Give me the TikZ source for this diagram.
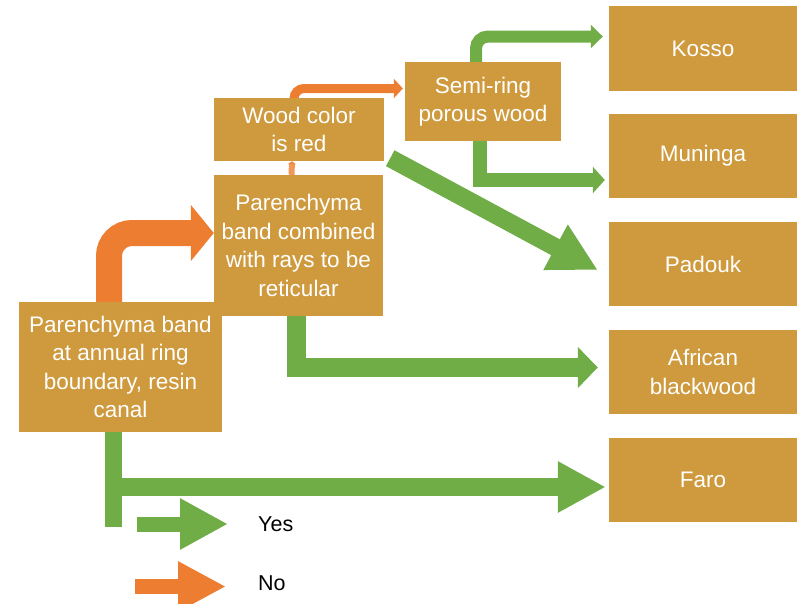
\documentclass[tikz,border=0pt]{standalone}
\usepackage{fontspec}
\setmainfont{Liberation Sans}
\usetikzlibrary{arrows.meta,backgrounds}

\definecolor{boxfill}{RGB}{207,154,61}
\definecolor{yescol}{RGB}{112,173,71}
\definecolor{nocol}{RGB}{237,125,49}

\tikzset{
	box/.style = {fill=boxfill, text=white, align=center, inner sep=0pt,
		font=\fontsize{22.5pt}{28.5pt}\selectfont},
	leaf/.style = {box, minimum width=188pt, minimum height=84pt},
	yes/.style = {draw=yescol, line width=#1},
	no/.style = {draw=nocol, line width=#1},
	legendtext/.style = {anchor=west, inner sep=0pt, font=\fontsize{21.5pt}{24pt}\selectfont}
}

\begin{document}
\begin{tikzpicture}[x=1pt, y=-1pt]
	\useasboundingbox (0,0) rectangle (798,603);
	%boxes
	\node[box, minimum width=203pt, minimum height=130pt] (root) at (120.5,367)
		{Parenchyma band\\at annual ring\\boundary, resin\\canal};
	\node[box, minimum width=169pt, minimum height=141pt] (comb) at (298.5,245.5)
		{Parenchyma\\band combined\\with rays to be\\reticular};
	\node[box, minimum width=170pt, minimum height=63pt] (red) at (299,129.5)
		{Wood color\\is red};
	\node[box, minimum width=156pt, minimum height=79pt] (semi) at (483,101.5)
		{Semi-ring\\porous wood};
	\node[leaf, minimum height=85pt] (kosso) at (703,48.5) {Kosso};
	\node[leaf] (muninga) at (703,156) {Muninga};
	\node[leaf] (padouk) at (703,264) {Padouk};
	\node[leaf] (african) at (703,372) {African\\blackwood};
	\node[leaf] (faro) at (703,480) {Faro};
	
	\coordinate (stem) at (113,527);
	\coordinate (fork) at (113,487);
	
	%arrows
	\begin{pgfonlayer}{background}
		\draw[no=26pt, rounded corners=23pt, -{Triangle[length=23pt,width=55pt]}]
			([xshift=-11.5pt]root.north) |- ([yshift=12.5pt]comb.west);
		\draw[no=9pt, rounded corners=10pt, shorten >=2pt, -{Triangle[length=9pt,width=19pt]}]
			([xshift=-5pt]red.north) |- ([yshift=13pt]semi.west);
		\draw[yes=12pt, rounded corners=12pt, shorten >=6pt, -{Triangle[length=12pt,width=23pt]}]
			([xshift=-7pt]semi.north) |- ([yshift=12pt]kosso.west);
		\draw[yes=14pt, shorten >=4pt, -{Triangle[length=12pt,width=26pt]}]
			([xshift=-3pt]semi.south) |- ([yshift=-24pt]muninga.west);
		\draw[yes=18pt, -{Triangle[length=48pt,width=48pt]}]
			([shift={(6pt,3pt)}]red.south east) -- ([shift={(-11pt,-6pt)}]padouk.west);
		\draw[yes=19pt, shorten >=11pt, -{Triangle[length=20pt,width=40pt]}]
			([xshift=-2pt]comb.south) |- ([yshift=4.5pt]african.west);
		\draw[yes=17pt] ([xshift=-7.5pt]root.south) -- (stem);
		\draw[yes=18pt, shorten >=3pt, -{Triangle[length=48pt,width=48pt]}]
			(fork) -- (fork -| faro.west);
	\end{pgfonlayer}
	\draw[no=6pt, opacity=.8, -{Triangle[length=3pt,width=8pt]}]
		([xshift=-7pt]comb.north) -- ([xshift=-7pt]red.south);
	
	%legend
	\node[legendtext] (yeslbl) at (258,524) {Yes};
	\node[legendtext] (nolbl) at (258,583) {No};
	\draw[yes=15pt, -{Triangle[length=48pt,width=48pt]}]
		([xshift=-121pt]yeslbl.west) -- ([xshift=-30pt]yeslbl.west);
	\draw[no=15pt, -{Triangle[length=48pt,width=47pt]}]
		([shift={(-123pt,-3.5pt)}]nolbl.west) -- ([shift={(-32pt,-3.5pt)}]nolbl.west);
\end{tikzpicture}
\end{document}
